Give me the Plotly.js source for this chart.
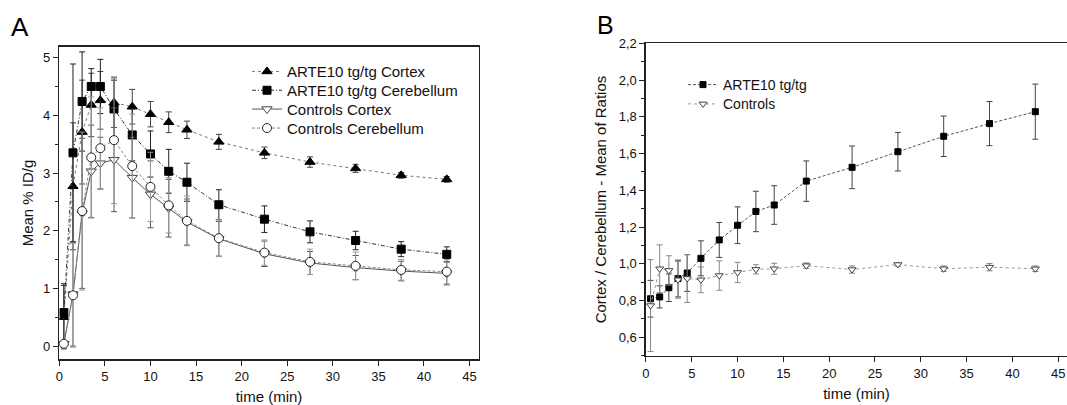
<!DOCTYPE html>
<html>
<head>
<meta charset="utf-8">
<script src="https://cdn.plot.ly/plotly-3.0.1.min.js"></script>
<style>html,body{margin:0;padding:0;background:#fff;}#chart{width:1067px;height:405px;}</style>
</head>
<body>
<div id="chart"></div>
<script>
// ---- Data ----
const timeMin = [0.5, 1.5, 2.5, 3.5, 4.5, 6, 8, 10, 12, 14, 17.5, 22.5, 27.5, 32.5, 37.5, 42.5];

// Panel A: Mean % ID/g
const tgCortex = [0.50, 2.77, 3.71, 4.18, 4.26, 4.22, 4.15, 4.02, 3.88, 3.75, 3.54, 3.35, 3.19, 3.08, 2.96, 2.89];
const tgCortexErr = [0.55, 1.10, 0.90, 0.55, 0.50, 0.43, 0.30, 0.22, 0.18, 0.15, 0.13, 0.10, 0.09, 0.07, 0.05, 0.05];
const tgCerebellum = [0.58, 3.35, 4.24, 4.50, 4.50, 4.11, 3.66, 3.33, 3.03, 2.84, 2.45, 2.20, 1.98, 1.83, 1.68, 1.59];
const tgCerebellumErr = [0.50, 1.54, 0.86, 0.31, 0.47, 0.50, 0.45, 0.40, 0.38, 0.33, 0.26, 0.23, 0.19, 0.16, 0.13, 0.13];
const ctrlCortex = [0.04, 0.90, 2.30, 3.03, 3.17, 3.23, 2.92, 2.63, 2.39, 2.15, 1.86, 1.60, 1.44, 1.36, 1.30, 1.26];
const ctrlCortexErr = [0.05, 0.90, 1.30, 0.80, 0.45, 0.90, 0.70, 0.58, 0.50, 0.40, 0.30, 0.22, 0.20, 0.21, 0.17, 0.20];
const ctrlCerebellum = [0.04, 0.88, 2.34, 3.27, 3.43, 3.57, 3.12, 2.76, 2.44, 2.17, 1.87, 1.62, 1.46, 1.39, 1.32, 1.29];
const ctrlCerebellumErr = [0.05, 0.90, 1.37, 1.05, 0.70, 1.10, 0.90, 0.60, 0.48, 0.43, 0.32, 0.22, 0.22, 0.24, 0.18, 0.21];

// Panel B: Cortex / Cerebellum ratio
const ratioTg = [0.81, 0.82, 0.87, 0.92, 0.95, 1.03, 1.13, 1.21, 1.285, 1.32, 1.45, 1.525, 1.61, 1.694, 1.763, 1.828];
const ratioTgErr = [0.10, 0.06, 0.075, 0.10, 0.10, 0.095, 0.095, 0.10, 0.11, 0.105, 0.11, 0.116, 0.105, 0.11, 0.12, 0.15];
const ratioCtrl = [0.773, 0.973, 0.964, 0.913, 0.92, 0.913, 0.936, 0.953, 0.97, 0.973, 0.99, 0.969, 0.996, 0.973, 0.982, 0.973];
const ratioCtrlErr = [0.25, 0.13, 0.08, 0.10, 0.13, 0.07, 0.08, 0.055, 0.025, 0.03, 0.015, 0.02, 0.01, 0.015, 0.02, 0.015];

const seriesNamesA = ['ARTE10 tg/tg Cortex', 'ARTE10 tg/tg Cerebellum', 'Controls Cortex', 'Controls Cerebellum'];
const seriesNamesB = ['ARTE10 tg/tg', 'Controls'];

// ---- Traces ----
function eb(arr, color) {
  return {type: 'data', array: arr, visible: true, color: color, thickness: 1, width: 3};
}
const FONT = '"Liberation Sans", Arial, sans-serif';

const traces = [
  {x: timeMin, y: tgCortex, name: seriesNamesA[0], mode: 'lines+markers', xaxis: 'x', yaxis: 'y', legend: 'legend',
   line: {color: '#777', width: 1, dash: 'dot'},
   marker: {symbol: 'triangle-up', size: 9, color: '#000', line: {color: '#000', width: 1}},
   error_y: eb(tgCortexErr, '#444')},
  {x: timeMin, y: tgCerebellum, name: seriesNamesA[1], mode: 'lines+markers', xaxis: 'x', yaxis: 'y', legend: 'legend2',
   line: {color: '#333', width: 1, dash: '4px,2px,1px,2px'},
   marker: {symbol: 'square', size: 8, color: '#000', line: {color: '#000', width: 1}},
   error_y: eb(tgCerebellumErr, '#222')},
  {x: timeMin, y: ctrlCortex, name: seriesNamesA[2], mode: 'lines+markers', xaxis: 'x', yaxis: 'y', legend: 'legend3',
   line: {color: '#555', width: 1},
   marker: {symbol: 'triangle-down', size: 9, color: '#fff', line: {color: '#444', width: 1}},
   error_y: eb(ctrlCortexErr, '#555')},
  {x: timeMin, y: ctrlCerebellum, name: seriesNamesA[3], mode: 'lines+markers', xaxis: 'x', yaxis: 'y', legend: 'legend4',
   line: {color: '#888', width: 1, dash: '3px,2px'},
   marker: {symbol: 'circle', size: 9, color: '#fff', line: {color: '#222', width: 1}},
   error_y: eb(ctrlCerebellumErr, '#999')},
  {x: timeMin, y: ratioTg, name: seriesNamesB[0], mode: 'lines+markers', xaxis: 'x2', yaxis: 'y2', legend: 'legend5',
   line: {color: '#555', width: 1, dash: '3px,2px'},
   marker: {symbol: 'square', size: 6, color: '#000', line: {color: '#000', width: 1}},
   error_y: eb(ratioTgErr, '#444')},
  {x: timeMin, y: ratioCtrl, name: seriesNamesB[1], mode: 'lines+markers', xaxis: 'x2', yaxis: 'y2', legend: 'legend6',
   line: {color: '#999', width: 1, dash: 'dot'},
   marker: {symbol: 'triangle-down', size: 7, color: '#fff', line: {color: '#444', width: 1}},
   error_y: eb(ratioCtrlErr, '#888')}
];

const axisCommon = {
  showline: true, linecolor: '#222', linewidth: 1.5, showgrid: false, zeroline: false,
  ticks: 'outside', ticklen: 5, tickwidth: 1, tickcolor: '#222',
  tickfont: {family: FONT, size: 13, color: '#111'}
};

function legendAt(px, py, size) {
  return {x: px / 1067, y: 1 - py / 405, xanchor: 'left', yanchor: 'middle', bgcolor: 'rgba(0,0,0,0)',
          font: {family: FONT, size: size, color: '#111'}, tracegroupgap: 0};
}

const layout = {
  width: 1067, height: 405,
  margin: {l: 0, r: 0, t: 0, b: 0},
  paper_bgcolor: '#fff', plot_bgcolor: '#fff',
  separators: ',.',
  showlegend: true,
  font: {family: FONT, color: '#111'},
  xaxis: Object.assign({}, axisCommon, {
    domain: [0.0556, 0.4486], range: [0, 46], dtick: 5, tick0: 0, mirror: true, anchor: 'y',
    title: {text: 'time (min)', font: {family: FONT, size: 15}, standoff: 8}
  }),
  yaxis: Object.assign({}, axisCommon, {
    domain: [0.1128, 0.8847], range: [-0.23, 5.19], dtick: 1, tick0: 0, mirror: true, anchor: 'x',
    minor: {dtick: 0.5, ticks: 'outside', ticklen: 3, tickcolor: '#222'},
    title: {text: 'Mean % ID/g', font: {family: FONT, size: 15}, standoff: 5}
  }),
  xaxis2: Object.assign({}, axisCommon, {
    domain: [0.6054, 1.0], range: [0, 45.96], dtick: 5, tick0: 0, mirror: true, anchor: 'y2',
    title: {text: 'time (min)', font: {family: FONT, size: 15}, standoff: 8}
  }),
  yaxis2: Object.assign({}, axisCommon, {
    domain: [0.1217, 0.8931], range: [0.5, 2.2], dtick: 0.2, tick0: 0.6, tickformat: '.1f', mirror: false, anchor: 'x2',
    minor: {dtick: 0.1, ticks: 'outside', ticklen: 3, tickcolor: '#222'},
    title: {text: 'Cortex / Cerebellum - Mean of Ratios', font: {family: FONT, size: 15}, standoff: 8}
  }),
  legend: legendAt(247, 71.7, 15),
  legend2: legendAt(247, 90.5, 15),
  legend3: legendAt(247, 109.3, 15),
  legend4: legendAt(247, 128.3, 15),
  legend5: legendAt(683, 85, 14),
  legend6: legendAt(683, 104.3, 14),
  annotations: [
    {text: 'A', x: 20 / 1067, y: 1 - 27.5 / 405, xref: 'paper', yref: 'paper', xanchor: 'center', yanchor: 'middle',
     showarrow: false, font: {family: FONT, size: 26, color: '#000'}},
    {text: 'B', x: 605.5 / 1067, y: 1 - 25 / 405, xref: 'paper', yref: 'paper', xanchor: 'center', yanchor: 'middle',
     showarrow: false, font: {family: FONT, size: 25, color: '#000'}}
  ]
};

Plotly.newPlot('chart', traces, layout, {staticPlot: true, displayModeBar: false});
</script>
</body>
</html>
